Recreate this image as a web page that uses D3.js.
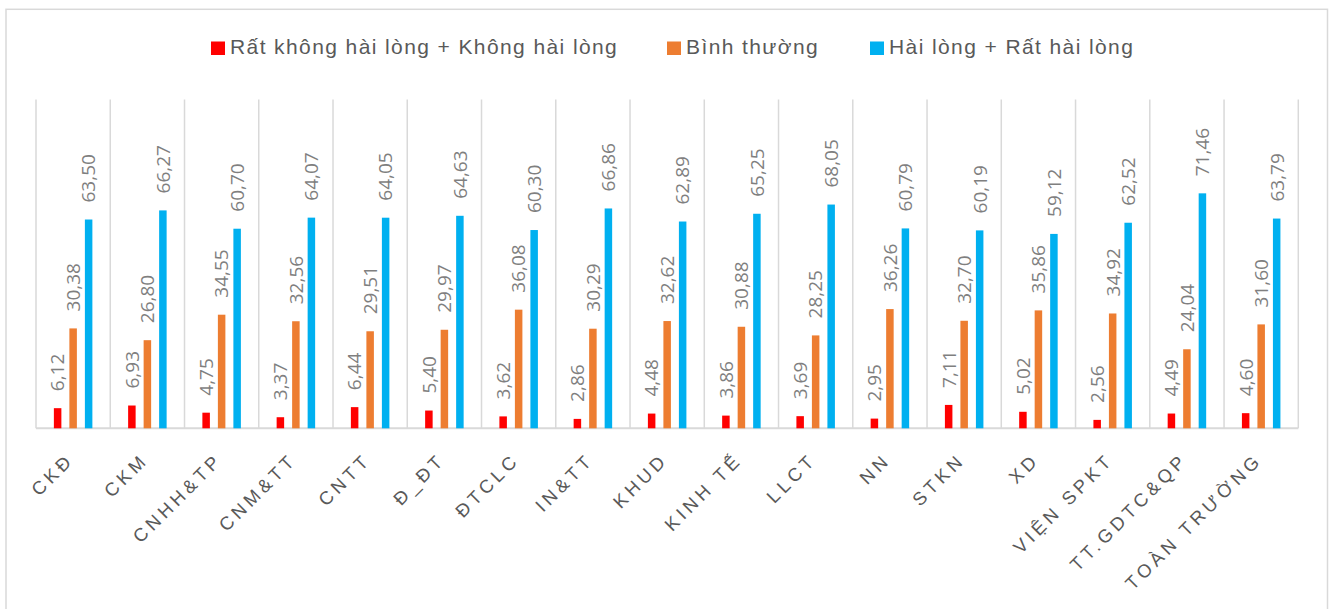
<!DOCTYPE html>
<html>
<head>
<meta charset="utf-8">
<script src="https://cdn.jsdelivr.net/npm/d3@7"></script>
<style>
  html, body { margin: 0; padding: 0; background: #fff; }
  svg { display: block; }
</style>
</head>
<body>
<svg id="chart" width="1332" height="609"></svg>
<script>
const categories = ["CKĐ", "CKM", "CNHH&TP", "CNM&TT", "CNTT", "Đ_ĐT", "ĐTCLC", "IN&TT", "KHUD", "KINH TẾ", "LLCT", "NN", "STKN", "XD", "VIỆN SPKT", "TT.GDTC&QP", "TOÀN TRƯỜNG"];
const seriesNames = ["Rất không hài lòng + Không hài lòng", "Bình thường", "Hài lòng + Rất hài lòng"];
const seriesColors = ["#FF0000", "#ED7D31", "#00B0F0"];
const dissatisfied = [6.12, 6.93, 4.75, 3.37, 6.44, 5.40, 3.62, 2.86, 4.48, 3.86, 3.69, 2.95, 7.11, 5.02, 2.56, 4.49, 4.60];
const neutral = [30.38, 26.80, 34.55, 32.56, 29.51, 29.97, 36.08, 30.29, 32.62, 30.88, 28.25, 36.26, 32.70, 35.86, 34.92, 24.04, 31.60];
const satisfied = [63.50, 66.27, 60.70, 64.07, 64.05, 64.63, 60.30, 66.86, 62.89, 65.25, 68.05, 60.79, 60.19, 59.12, 62.52, 71.46, 63.79];
const seriesValues = [dissatisfied, neutral, satisfied];

const svg = d3.select("#chart");

// chart border
svg.append("rect")
  .attr("x", 6).attr("y", 9.3)
  .attr("width", 1321.5).attr("height", 620)
  .attr("fill", "#fff")
  .attr("stroke", "#d9d9d9").attr("stroke-width", 1.5);

const plotLeft = 36, plotRight = 1298.3, plotTop = 99.5, plotBottom = 428.3;

const x0 = d3.scaleBand().domain(categories).range([plotLeft, plotRight]).padding(0);
const x1 = d3.scaleBand().domain(d3.range(3))
  .range([x0.bandwidth() * 0.2407, x0.bandwidth() * 0.7593])
  .paddingInner(0.516).paddingOuter(0);
const y = d3.scaleLinear().domain([0, 100]).range([plotBottom, plotTop]);

// vertical category separators
const boundaries = categories.map(c => x0(c)).concat([x0.range()[1]]);
svg.append("g").selectAll("line").data(boundaries).join("line")
  .attr("x1", d => d).attr("x2", d => d)
  .attr("y1", plotTop).attr("y2", plotBottom)
  .attr("stroke", "#d9d9d9").attr("stroke-width", 1.5);

// baseline
svg.append("line")
  .attr("x1", plotLeft).attr("x2", plotRight)
  .attr("y1", y(0)).attr("y2", y(0))
  .attr("stroke", "#d9d9d9").attr("stroke-width", 2);

// bars
const fmt = v => v.toFixed(2).replace(".", ",");
const groups = svg.append("g").selectAll("g").data(categories).join("g")
  .attr("transform", c => `translate(${x0(c)},0)`);

groups.each(function(c, ci) {
  const g = d3.select(this);
  seriesValues.forEach((vals, si) => {
    const v = vals[ci];
    g.append("rect")
      .attr("x", x1(si)).attr("width", x1.bandwidth())
      .attr("y", y(v)).attr("height", y(0) - y(v))
      .attr("fill", seriesColors[si]);
    const cx = x1(si) + x1.bandwidth() / 2;
    const ty = y(v) - 17;
    g.append("text")
      .attr("transform", `translate(${cx},${ty}) rotate(-90)`)
      .attr("dy", "0.36em")
      .attr("text-anchor", "start")
      .attr("font-family", "'Open Sans', sans-serif")
      .attr("font-size", 19)
      .attr("fill", "#7f7f7f")
      .text(fmt(v));
  });
});

// x-axis labels
svg.append("g").selectAll("text").data(categories).join("text")
  .attr("transform", c => `translate(${x0(c) + x0.bandwidth() / 2 + 2},${461}) rotate(-45)`)
  .attr("text-anchor", "end")
  .attr("font-family", "'Liberation Sans', Arial, sans-serif")
  .attr("font-size", 18.5)
  .attr("letter-spacing", 4)
  .attr("fill", "#595959")
  .text(d => d);

// legend
const legendX = [211, 667, 870];
const leg = svg.append("g").selectAll("g").data(seriesNames).join("g")
  .attr("transform", (d, i) => `translate(${legendX[i]},41.5)`);
leg.append("rect").attr("width", 14).attr("height", 13.5)
  .attr("fill", (d, i) => seriesColors[i]);
leg.append("text")
  .attr("x", 19).attr("y", 12.5)
  .attr("font-family", "'Liberation Sans', Arial, sans-serif")
  .attr("font-size", 21)
  .attr("letter-spacing", 1.4)
  .attr("fill", "#595959")
  .text(d => d);
</script>
</body>
</html>
